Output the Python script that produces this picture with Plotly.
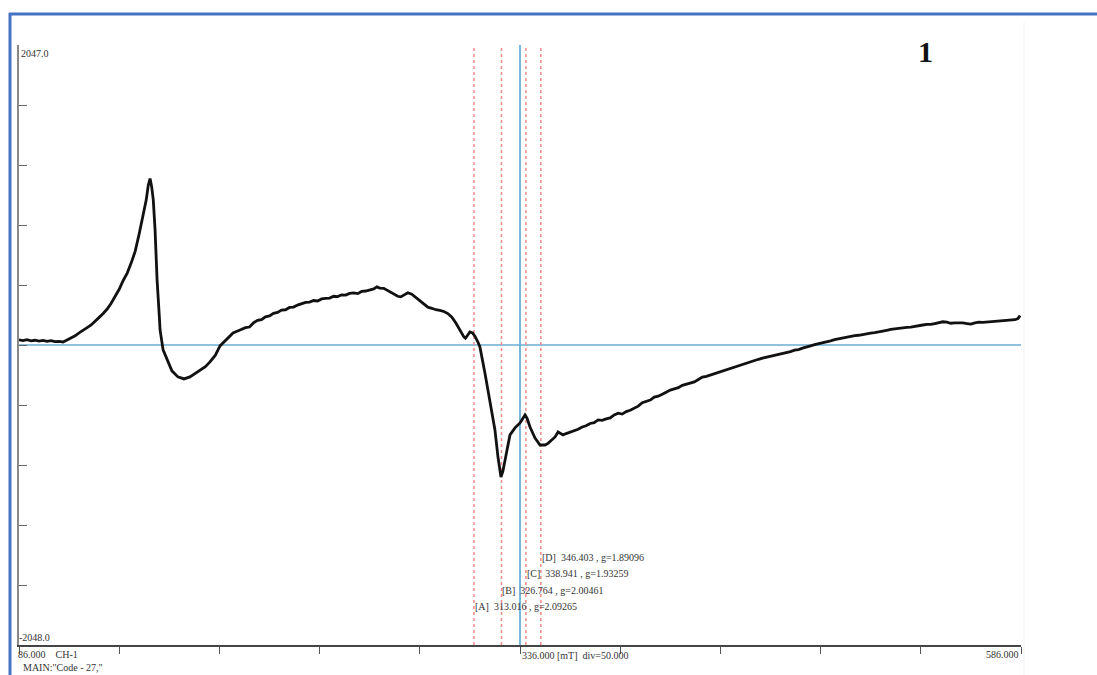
import plotly.graph_objects as go

# EPR spectrum, magnetic field (mT) vs signal intensity (ADC units)
field_mT = [
    86.0, 88.0, 90.0, 92.0, 94.0, 96.0, 98.0, 100.0, 102.0, 104.0, 106.0, 108.0,
    110.0, 112.0, 114.0, 116.0, 118.0, 120.0, 122.0, 124.0, 126.0, 128.0, 130.0,
    132.0, 134.0, 136.0, 138.0, 140.0, 142.0, 144.0, 146.0, 148.0, 149.5, 150.5,
    151.4, 152.2, 153.0, 153.9, 154.9, 156.0, 156.4, 157.9, 159.9, 162.3, 165.3,
    168.3, 171.3, 174.0, 176.3, 179.0, 181.3, 184.0, 186.3, 189.0, 191.3, 192.8,
    196.3, 199.0, 201.0, 203.0, 205.0, 207.0, 209.0, 211.0, 213.0, 215.0, 217.0,
    219.0, 221.0, 223.0, 225.0, 227.0, 229.0, 231.0, 233.0, 235.0, 237.0, 239.0,
    241.0, 243.0, 245.0, 247.0, 249.0, 251.0, 253.0, 255.0, 257.0, 259.0, 261.0,
    263.0, 264.6, 266.0, 268.0, 270.0, 271.5, 273.0, 275.0, 276.5, 278.0, 280.0,
    282.0, 284.0, 286.0, 288.0, 290.0, 292.0, 294.0, 296.0, 298.0, 300.0, 302.0,
    304.0, 306.0, 308.0, 308.8, 310.0, 311.0, 312.3, 313.5, 315.0, 316.0, 318.5,
    321.0, 323.5, 325.0, 326.5, 327.5, 328.5, 331.0, 333.5, 336.0, 338.5, 339.5,
    341.0, 343.5, 346.0, 348.5, 350.0, 352.0, 353.5, 355.0, 356.5, 357.5, 359.0,
    361.0, 363.0, 365.0, 367.0, 369.0, 371.0, 373.0, 375.0, 377.0, 379.0, 381.0,
    383.0, 385.0, 387.0, 389.0, 391.0, 393.0, 395.0, 397.0, 399.0, 401.0, 403.0,
    405.0, 407.0, 409.0, 411.0, 413.0, 415.0, 417.0, 419.0, 421.0, 423.0, 425.0,
    427.0, 429.0, 431.0, 433.0, 435.0, 437.0, 439.0, 441.0, 443.0, 445.0, 447.0,
    449.0, 451.0, 453.0, 455.0, 457.0, 459.0, 461.0, 463.0, 465.0, 467.0, 469.0,
    471.0, 473.0, 475.0, 477.0, 479.0, 481.0, 483.0, 485.0, 487.0, 489.0, 491.0,
    493.0, 495.0, 497.0, 499.0, 501.0, 503.0, 505.0, 507.0, 509.0, 511.0, 513.0,
    515.0, 517.0, 519.0, 521.0, 523.0, 525.0, 527.0, 529.0, 531.0, 533.0, 535.0,
    537.0, 539.0, 541.0, 543.0, 545.0, 547.0, 549.0, 551.0, 553.0, 555.0, 557.0,
    559.0, 561.0, 563.0, 565.0, 567.0, 569.0, 571.0, 573.0, 575.0, 577.0, 579.0,
    581.0, 583.0, 584.5, 585.5,
]
intensity = [
    34, 30, 36, 28, 32, 26, 31, 24, 29, 22, 24, 20,
    34, 48, 62, 82, 98, 118, 136, 160, 188, 215, 245,
    285, 330, 380, 440, 490, 560, 640, 760, 890, 990, 1090,
    1135, 1080, 990, 785, 444, 200, 102, -34, -102, -177, -218,
    -232, -218, -195, -177, -148, -116, -70, -7, 30, 55, 82,
    102, 118, 122, 150, 168, 172, 192, 198, 215, 222, 238,
    240, 256, 258, 272, 280, 290, 292, 303, 300, 314, 318,
    320, 332, 330, 342, 340, 352, 355, 350, 365, 368, 374,
    382, 396, 388, 386, 370, 360, 352, 332, 328, 342, 356,
    346, 325, 300, 278, 258, 250, 240, 236, 228, 214, 190,
    150, 100, 55, 46, 70, 89, 82, 60, 20, -14, -191,
    -396, -580, -764, -901, -860, -785, -614, -566, -532, -478, -500,
    -560, -635, -683, -683, -672, -648, -628, -594, -606, -614, -605,
    -595, -584, -576, -560, -552, -536, -530, -512, -515, -505, -498,
    -478, -466, -472, -455, -446, -430, -418, -395, -388, -376, -356,
    -350, -336, -322, -308, -300, -292, -276, -268, -258, -252, -236,
    -220, -214, -205, -196, -186, -176, -166, -156, -150, -140, -132,
    -122, -116, -104, -98, -90, -84, -78, -72, -62, -58, -50,
    -46, -36, -32, -22, -16, -6, 2, 8, 14, 18, 28,
    36, 42, 48, 54, 58, 64, 66, 72, 76, 80, 84,
    88, 96, 100, 106, 110, 116, 118, 120, 122, 128, 132,
    136, 140, 140, 146, 150, 158, 155, 148, 150, 152, 150,
    146, 142, 150, 156, 154, 156, 160, 160, 164, 166, 170,
    168, 172, 180, 200,
]

# Cursor markers (field in mT and g-value)
marker_tags = ["A", "B", "C", "D"]
marker_field = [313.016, 326.764, 338.941, 346.403]
marker_g = ["2.09265", "2.00461", "1.93259", "1.89096"]

# Sweep settings
field_min, field_center, field_max, field_div = 86.0, 336.0, 586.0, 50.0
int_min, int_max = -2048.0, 2047.0

W, H = 1097, 675


def px(x):
    return x / W


def py(y):
    return 1 - y / H


SERIF = "Liberation Serif, Times New Roman, serif"
TXT = "#333333"

fig = go.Figure()
fig.add_trace(go.Scatter(
    x=field_mT, y=intensity, mode="lines",
    line=dict(color="#111111", width=2.8),
    hoverinfo="skip", showlegend=False,
))

shapes = []
# zero baseline and center-field cursor
shapes.append(dict(type="line", xref="x", yref="y", x0=field_min, x1=field_max,
                   y0=0, y1=0, line=dict(color="#6aaed6", width=1.6), layer="below"))
shapes.append(dict(type="line", xref="x", yref="y", x0=field_center, x1=field_center,
                   y0=int_min, y1=int_max + 8, line=dict(color="#6aaed6", width=1.8),
                   layer="below"))
# marker cursors
for f in marker_field:
    shapes.append(dict(type="line", xref="x", yref="y", x0=f, x1=f, y0=int_min, y1=int_max,
                       line=dict(color="#f08a8a", width=1.5, dash="dot"), layer="below"))
# page frame
shapes.append(dict(type="line", xref="paper", yref="paper", x0=px(10), x1=px(10),
                   y0=py(13), y1=0, line=dict(color="#4472c4", width=3)))
shapes.append(dict(type="line", xref="paper", yref="paper", x0=px(9), x1=1,
                   y0=py(14), y1=py(14), line=dict(color="#4472c4", width=3)))
shapes.append(dict(type="line", xref="paper", yref="paper", x0=px(1024), x1=px(1024),
                   y0=py(22), y1=0, line=dict(color="#f2f2f2", width=1)))

annotations = []
for tag, f, g, ypix in zip(marker_tags, marker_field, marker_g, [606, 590, 573, 557]):
    annotations.append(dict(
        x=f, xref="x", y=py(ypix), yref="paper", xanchor="left", yanchor="middle",
        text=f"[{tag}]  {f:.3f} , g={g}", showarrow=False,
        font=dict(family=SERIF, size=10, color=TXT), xshift=-1,
    ))

annotations += [
    dict(x=field_min, xref="x", y=int_max, yref="y", xanchor="left", yanchor="top",
         text=f"{int_max:.1f}", showarrow=False, font=dict(family=SERIF, size=10, color=TXT),
         yshift=-1),
    dict(x=field_min, xref="x", y=int_min, yref="y", xanchor="left", yanchor="bottom",
         text=f"{int_min:.1f}", showarrow=False, font=dict(family=SERIF, size=10, color=TXT),
         xshift=-2),
    dict(x=field_min, xref="x", y=py(654), yref="paper", xanchor="left", yanchor="middle",
         text=f"{field_min:.3f}    CH-1", showarrow=False,
         font=dict(family=SERIF, size=10, color=TXT), xshift=-3),
    dict(x=px(21), xref="paper", y=py(667), yref="paper", xanchor="left", yanchor="middle",
         text='MAIN:"Code - 27,"', showarrow=False,
         font=dict(family=SERIF, size=10, color=TXT)),
    dict(x=field_center, xref="x", y=py(655), yref="paper", xanchor="left", yanchor="middle",
         text=f"{field_center:.3f} [mT]  div={field_div:.3f}", showarrow=False,
         font=dict(family=SERIF, size=10, color=TXT)),
    dict(x=field_max, xref="x", y=py(654), yref="paper", xanchor="right", yanchor="middle",
         text=f"{field_max:.3f}", showarrow=False,
         font=dict(family=SERIF, size=10, color=TXT)),
    dict(x=px(925), xref="paper", y=py(52), yref="paper", xanchor="center", yanchor="middle",
         text="<b>1</b>", showarrow=False,
         font=dict(family=SERIF, size=30, color="#111111")),
]

x_ticks = [field_min + i * field_div for i in range(11)]
y_ticks = [int_min + i * (int_max - int_min) / 10 for i in range(11)]

fig.update_layout(
    width=W, height=H,
    margin=dict(l=0, r=0, t=0, b=0),
    paper_bgcolor="white", plot_bgcolor="white",
    shapes=shapes, annotations=annotations,
    xaxis=dict(
        domain=[px(19), px(1021)], range=[field_min, field_max],
        showgrid=False, zeroline=False, showticklabels=False,
        tickvals=x_ticks, ticks="outside", ticklen=7, tickwidth=1, tickcolor="#555",
        showline=True, linecolor="#444", linewidth=1.5,
    ),
    yaxis=dict(
        domain=[py(645), py(45)], range=[int_min, int_max],
        showgrid=False, zeroline=False, showticklabels=False,
        tickvals=y_ticks, ticks="inside", ticklen=8, tickwidth=1, tickcolor="#666",
        showline=True, linecolor="#888", linewidth=1.5,
    ),
)

fig.write_html("out.html")
